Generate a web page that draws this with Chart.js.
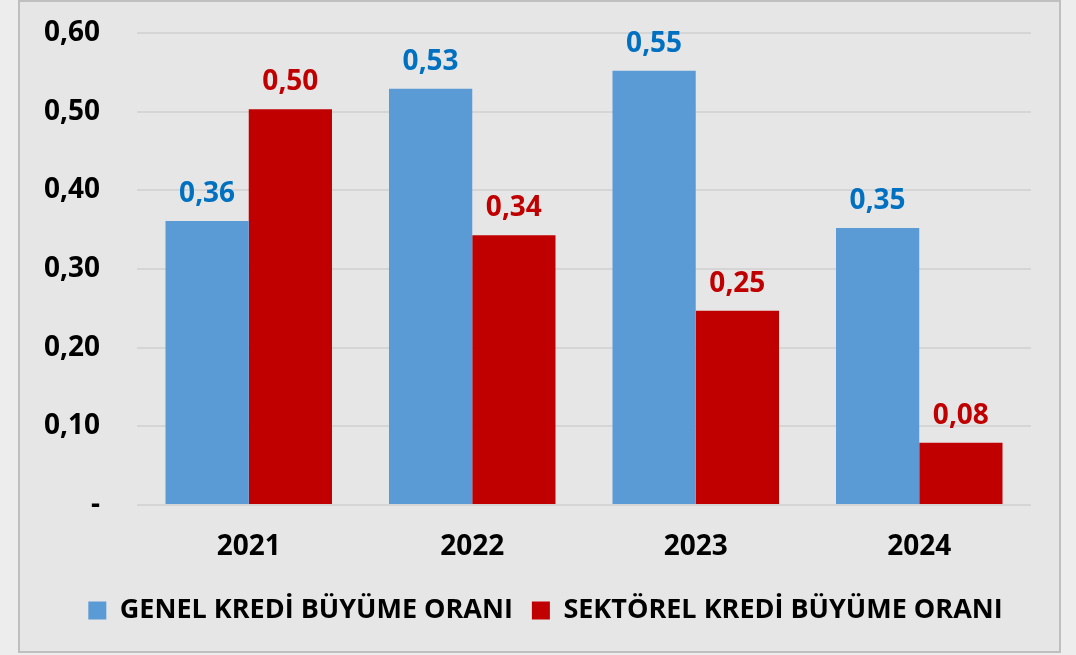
<!DOCTYPE html>
<html>
<head>
<meta charset="utf-8">
<script src="https://cdn.jsdelivr.net/npm/chart.js@4.4.1/dist/chart.umd.min.js"></script>
<style>
  html, body { margin: 0; padding: 0; background: #ededed; }
  #frame {
    position: absolute; left: 18px; top: 0px;
    width: 1039px; height: 649px;
    border: 2px solid #bfbfbf;
    background: #e7e6e6;
  }
  #frame canvas { display: block; }
</style>
</head>
<body>
<div id="frame"><canvas id="c" width="1039" height="649"></canvas></div>
<script>
const categories = ['2021', '2022', '2023', '2024'];
const genelValues = [0.361, 0.529, 0.552, 0.352];
const sektorelValues = [0.503, 0.343, 0.247, 0.079];
const seriesNames = ['GENEL KREDİ BÜYÜME ORANI', 'SEKTÖREL KREDİ BÜYÜME ORANI'];
const yTicks = [0, 0.1, 0.2, 0.3, 0.4, 0.5, 0.6];

const FONT = "'Open Sans', 'DejaVu Sans', sans-serif";
const fmt = v => v === 0 ? '-' : v.toFixed(2).replace('.', ',');

const labelPlugin = {
  id: 'barLabels',
  afterDatasetsDraw(chart) {
    const ctx = chart.ctx;
    ctx.save();
    ctx.font = "bold 28px " + FONT;
    ctx.textAlign = 'center';
    ctx.textBaseline = 'alphabetic';
    chart.data.datasets.forEach((ds, i) => {
      const meta = chart.getDatasetMeta(i);
      ctx.fillStyle = ds.labelColor;
      meta.data.forEach((bar, j) => {
        ctx.fillText(fmt(ds.data[j]), bar.x, bar.y - 19);
      });
    });
    ctx.restore();
  }
};

// nudge the legend box so it sits centred in the frame
const legendNudge = {
  id: 'legendNudge',
  afterLayout(chart) {
    const lg = chart.legend;
    if (!lg) return;
    lg.left += 20; lg.right += 20;
  }
};

new Chart(document.getElementById('c'), {
  type: 'bar',
  data: {
    labels: categories,
    datasets: [
      { label: seriesNames[0], data: genelValues, backgroundColor: '#5b9bd5', labelColor: '#0070c0',
        categoryPercentage: 0.745, barPercentage: 1.0 },
      { label: seriesNames[1], data: sektorelValues, backgroundColor: '#c00000', labelColor: '#c00000',
        categoryPercentage: 0.745, barPercentage: 1.0 }
    ]
  },
  options: {
    responsive: false,
    animation: false,
    layout: { padding: { top: 31, right: 28, left: 0, bottom: 17 } },
    plugins: {
      tooltip: { enabled: false },
      legend: {
        position: 'bottom',
        labels: {
          font: { family: FONT, size: 27, weight: 'bold' },
          color: '#000000',
          boxWidth: 18, boxHeight: 18,
          padding: 19
        }
      }
    },
    scales: {
      x: {
        afterFit(scale) { scale.height = 73; },
        grid: { display: false, drawTicks: false },
        border: { display: false },
        ticks: { font: { family: FONT, size: 28, weight: 'bold' }, color: '#000000', padding: 25 }
      },
      y: {
        min: 0, max: 0.6,
        afterBuildTicks(scale) { scale.ticks = yTicks.map(v => ({ value: v })); },
        afterFit(scale) { scale.width = 117; },
        grid: { color: '#d5d5d5', lineWidth: 2, drawTicks: true, tickLength: 37, tickColor: 'rgba(0,0,0,0)' },
        border: { display: false },
        ticks: {
          font: { family: FONT, size: 28, weight: 'bold' }, color: '#000000', padding: 0,
          callback: v => fmt(v)
        }
      }
    }
  },
  plugins: [labelPlugin, legendNudge]
});
</script>
</body>
</html>
